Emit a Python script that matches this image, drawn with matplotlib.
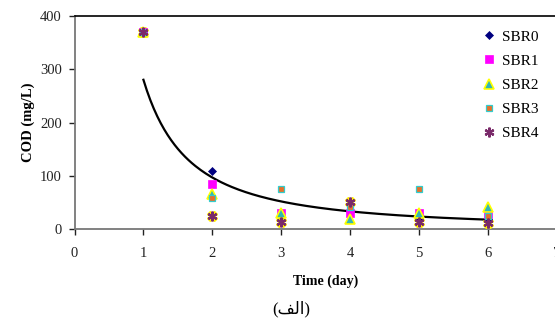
import numpy as np
import matplotlib
matplotlib.use("Agg")
import matplotlib.pyplot as plt

days = [1, 2, 3, 4, 5, 6]
sbr0 = [370, 110, 25, 35, 22, 20]
sbr1 = [370, 85, 30, 30, 30, 28]
sbr2 = [370, 67, 30, 20, 30, 41]
sbr3 = [370, 58, 75, 42, 75, 25]
sbr4 = [370, 24, 14, 52, 14, 11]
labels = ["SBR0", "SBR1", "SBR2", "SBR3", "SBR4"]
x_ticks = [0, 1, 2, 3, 4, 5, 6, 7]
y_ticks = [0, 100, 200, 300, 400]
# power trendline y = a * x^b
trend_a = 280.0
trend_b = -1.53

plt.rcParams['font.family'] = ['Liberation Serif', 'DejaVu Sans']

fig = plt.figure(figsize=(5.55, 3.2), dpi=100)
ax = fig.add_axes([74.5 / 555, 1 - 229.3 / 320, (557 - 74.5) / 555, (229.3 - 15.7) / 320])

tx = np.linspace(1, 6, 200)
ax.plot(tx, trend_a * tx ** trend_b, color='black', lw=1.6, zorder=2)

styles = [
    dict(marker='D', ms=4.5, mfc='#000080', mec='#000080', mew=0.5),
    dict(marker='s', ms=6, mfc='#ff00ff', mec='#ff00ff', mew=0.5),
    dict(marker='^', ms=6.5, mfc='#33b5b5', mec='#ffff00', mew=1.2),
    dict(marker='s', ms=5, mfc='#e8702a', mec='#33cccc', mew=0.9),
    dict(marker=(6, 2, 0), ms=7, mfc='#7a2a6a', mec='#7a2a6a', mew=1.6),
]
series = [sbr0, sbr1, sbr2, sbr3, sbr4]
handles = []
for s, st, lab in zip(series, styles, labels):
    if lab == "SBR4":
        ax.plot(days, s, ls='none', marker='X', ms=7, mfc='#ffee00', mec='#ffee00', zorder=3)
    h, = ax.plot(days, s, ls='none', label=lab, zorder=4, **st)
    handles.append(h)

ax.set_xlim(0, 7)
ax.set_ylim(0, 400)
ax.set_xticks(x_ticks)
ax.set_yticks(y_ticks)
ax.tick_params(axis='both', direction='out', length=4, width=1, labelsize=10.5, colors='#222222')
ax.tick_params(axis='x', pad=9)
ax.tick_params(axis='y', pad=5)
for sp in ['left', 'bottom']:
    ax.spines[sp].set_color('#777777')
    ax.spines[sp].set_linewidth(1.3)
ax.spines['top'].set_color('black')
ax.spines['top'].set_linewidth(1.2)
ax.spines['right'].set_visible(False)

ax.set_ylabel("COD (mg/L)", fontsize=10.5, fontweight='bold', labelpad=4)
fig.text(326 / 555, 1 - 281 / 320, "Time (day)", fontsize=10, fontweight='bold', ha='center', va='center')
arabic = "(" + "\uFED2\uFEDF\uFE8D" + ")"
fig.text(291 / 555, 1 - 309 / 320, arabic, fontsize=12, ha='center', va='center')

fig.legend(handles=handles, loc='upper left', bbox_to_anchor=(483 / 555, 1 - 30 / 320),
           frameon=False, fontsize=11, handlelength=0.8, handletextpad=0.45,
           labelspacing=0.68, borderpad=0, borderaxespad=0)

fig.savefig("out.png", dpi=100)
